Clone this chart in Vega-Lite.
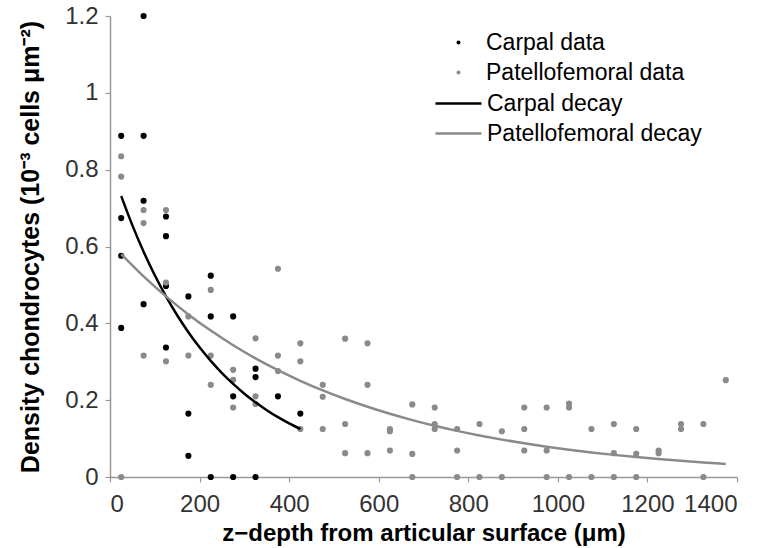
{
  "$schema": "https://vega.github.io/schema/vega-lite/v6.json",
  "autosize": "none",
  "width": 627,
  "height": 461,
  "padding": {"left": 110, "top": 16, "right": 32, "bottom": 71},
  "background": "white",
  "config": {
    "view": {"stroke": null},
    "font": "Liberation Sans",
    "axis": {
      "grid": false,
      "domainColor": "#999999",
      "domainWidth": 1.5,
      "tickColor": "#999999",
      "tickWidth": 1.2,
      "tickSize": 5,
      "labelFont": "Liberation Sans",
      "labelFontSize": 24,
      "labelColor": "#333333",
      "titleFont": "Liberation Sans",
      "titleFontSize": 24,
      "titleFontWeight": "bold",
      "titleColor": "#000000"
    },
    "legend": {
      "labelFont": "Liberation Sans",
      "labelFontSize": 23,
      "labelColor": "#000000",
      "labelLimit": 400,
      "padding": 0,
      "rowPadding": 6,
      "title": null
    }
  },
  "datasets": {
    "points": [
      {"depth": 25, "density": 0.888, "series": "Carpal data"},
      {"depth": 25, "density": 0.674, "series": "Carpal data"},
      {"depth": 25, "density": 0.576, "series": "Carpal data"},
      {"depth": 25, "density": 0.388, "series": "Carpal data"},
      {"depth": 75, "density": 1.2, "series": "Carpal data"},
      {"depth": 75, "density": 0.888, "series": "Carpal data"},
      {"depth": 75, "density": 0.719, "series": "Carpal data"},
      {"depth": 75, "density": 0.45, "series": "Carpal data"},
      {"depth": 125, "density": 0.678, "series": "Carpal data"},
      {"depth": 125, "density": 0.627, "series": "Carpal data"},
      {"depth": 125, "density": 0.4975, "series": "Carpal data"},
      {"depth": 125, "density": 0.337, "series": "Carpal data"},
      {"depth": 175, "density": 0.47, "series": "Carpal data"},
      {"depth": 175, "density": 0.165, "series": "Carpal data"},
      {"depth": 175, "density": 0.055, "series": "Carpal data"},
      {"depth": 225, "density": 0.524, "series": "Carpal data"},
      {"depth": 225, "density": 0.418, "series": "Carpal data"},
      {"depth": 225, "density": 0, "series": "Carpal data"},
      {"depth": 275, "density": 0.418, "series": "Carpal data"},
      {"depth": 275, "density": 0.21, "series": "Carpal data"},
      {"depth": 275, "density": 0, "series": "Carpal data"},
      {"depth": 325, "density": 0.282, "series": "Carpal data"},
      {"depth": 325, "density": 0.26, "series": "Carpal data"},
      {"depth": 325, "density": 0, "series": "Carpal data"},
      {"depth": 375, "density": 0.21, "series": "Carpal data"},
      {"depth": 425, "density": 0.165, "series": "Carpal data"},
      {"depth": 25, "density": 0.835, "series": "Patellofemoral data"},
      {"depth": 25, "density": 0.782, "series": "Patellofemoral data"},
      {"depth": 25, "density": 0, "series": "Patellofemoral data"},
      {"depth": 75, "density": 0.695, "series": "Patellofemoral data"},
      {"depth": 75, "density": 0.661, "series": "Patellofemoral data"},
      {"depth": 75, "density": 0.316, "series": "Patellofemoral data"},
      {"depth": 125, "density": 0.695, "series": "Patellofemoral data"},
      {"depth": 125, "density": 0.506, "series": "Patellofemoral data"},
      {"depth": 125, "density": 0.301, "series": "Patellofemoral data"},
      {"depth": 175, "density": 0.418, "series": "Patellofemoral data"},
      {"depth": 175, "density": 0.316, "series": "Patellofemoral data"},
      {"depth": 225, "density": 0.487, "series": "Patellofemoral data"},
      {"depth": 225, "density": 0.316, "series": "Patellofemoral data"},
      {"depth": 225, "density": 0.24, "series": "Patellofemoral data"},
      {"depth": 275, "density": 0.279, "series": "Patellofemoral data"},
      {"depth": 275, "density": 0.253, "series": "Patellofemoral data"},
      {"depth": 275, "density": 0.181, "series": "Patellofemoral data"},
      {"depth": 325, "density": 0.361, "series": "Patellofemoral data"},
      {"depth": 325, "density": 0.21, "series": "Patellofemoral data"},
      {"depth": 325, "density": 0.19, "series": "Patellofemoral data"},
      {"depth": 375, "density": 0.542, "series": "Patellofemoral data"},
      {"depth": 375, "density": 0.316, "series": "Patellofemoral data"},
      {"depth": 375, "density": 0.276, "series": "Patellofemoral data"},
      {"depth": 425, "density": 0.348, "series": "Patellofemoral data"},
      {"depth": 425, "density": 0.301, "series": "Patellofemoral data"},
      {"depth": 425, "density": 0.125, "series": "Patellofemoral data"},
      {"depth": 475, "density": 0.24, "series": "Patellofemoral data"},
      {"depth": 475, "density": 0.209, "series": "Patellofemoral data"},
      {"depth": 475, "density": 0.125, "series": "Patellofemoral data"},
      {"depth": 525, "density": 0.36, "series": "Patellofemoral data"},
      {"depth": 525, "density": 0.138, "series": "Patellofemoral data"},
      {"depth": 525, "density": 0.062, "series": "Patellofemoral data"},
      {"depth": 575, "density": 0.348, "series": "Patellofemoral data"},
      {"depth": 575, "density": 0.24, "series": "Patellofemoral data"},
      {"depth": 575, "density": 0.062, "series": "Patellofemoral data"},
      {"depth": 625, "density": 0.125, "series": "Patellofemoral data"},
      {"depth": 625, "density": 0.119, "series": "Patellofemoral data"},
      {"depth": 625, "density": 0.069, "series": "Patellofemoral data"},
      {"depth": 675, "density": 0.189, "series": "Patellofemoral data"},
      {"depth": 675, "density": 0.06, "series": "Patellofemoral data"},
      {"depth": 675, "density": 0, "series": "Patellofemoral data"},
      {"depth": 725, "density": 0.181, "series": "Patellofemoral data"},
      {"depth": 725, "density": 0.138, "series": "Patellofemoral data"},
      {"depth": 725, "density": 0.125, "series": "Patellofemoral data"},
      {"depth": 775, "density": 0.125, "series": "Patellofemoral data"},
      {"depth": 775, "density": 0.069, "series": "Patellofemoral data"},
      {"depth": 775, "density": 0, "series": "Patellofemoral data"},
      {"depth": 825, "density": 0.138, "series": "Patellofemoral data"},
      {"depth": 825, "density": 0, "series": "Patellofemoral data"},
      {"depth": 875, "density": 0.119, "series": "Patellofemoral data"},
      {"depth": 875, "density": 0, "series": "Patellofemoral data"},
      {"depth": 925, "density": 0.181, "series": "Patellofemoral data"},
      {"depth": 925, "density": 0.125, "series": "Patellofemoral data"},
      {"depth": 925, "density": 0.069, "series": "Patellofemoral data"},
      {"depth": 975, "density": 0.181, "series": "Patellofemoral data"},
      {"depth": 975, "density": 0.069, "series": "Patellofemoral data"},
      {"depth": 975, "density": 0, "series": "Patellofemoral data"},
      {"depth": 1025, "density": 0.191, "series": "Patellofemoral data"},
      {"depth": 1025, "density": 0.181, "series": "Patellofemoral data"},
      {"depth": 1025, "density": 0, "series": "Patellofemoral data"},
      {"depth": 1075, "density": 0.125, "series": "Patellofemoral data"},
      {"depth": 1075, "density": 0, "series": "Patellofemoral data"},
      {"depth": 1125, "density": 0.138, "series": "Patellofemoral data"},
      {"depth": 1125, "density": 0.062, "series": "Patellofemoral data"},
      {"depth": 1125, "density": 0, "series": "Patellofemoral data"},
      {"depth": 1175, "density": 0.125, "series": "Patellofemoral data"},
      {"depth": 1175, "density": 0.06, "series": "Patellofemoral data"},
      {"depth": 1175, "density": 0, "series": "Patellofemoral data"},
      {"depth": 1225, "density": 0.069, "series": "Patellofemoral data"},
      {"depth": 1225, "density": 0.062, "series": "Patellofemoral data"},
      {"depth": 1275, "density": 0.138, "series": "Patellofemoral data"},
      {"depth": 1275, "density": 0.125, "series": "Patellofemoral data"},
      {"depth": 1325, "density": 0.138, "series": "Patellofemoral data"},
      {"depth": 1325, "density": 0, "series": "Patellofemoral data"},
      {"depth": 1375, "density": 0.252, "series": "Patellofemoral data"}
    ],
    "curves": [
      {"depth": 25, "density": 0.7315, "series": "Carpal decay"},
      {"depth": 50, "density": 0.655, "series": "Carpal decay"},
      {"depth": 75, "density": 0.5865, "series": "Carpal decay"},
      {"depth": 100, "density": 0.5251, "series": "Carpal decay"},
      {"depth": 125, "density": 0.4702, "series": "Carpal decay"},
      {"depth": 150, "density": 0.421, "series": "Carpal decay"},
      {"depth": 175, "density": 0.377, "series": "Carpal decay"},
      {"depth": 200, "density": 0.3375, "series": "Carpal decay"},
      {"depth": 225, "density": 0.3022, "series": "Carpal decay"},
      {"depth": 250, "density": 0.2706, "series": "Carpal decay"},
      {"depth": 275, "density": 0.2423, "series": "Carpal decay"},
      {"depth": 300, "density": 0.2169, "series": "Carpal decay"},
      {"depth": 325, "density": 0.1943, "series": "Carpal decay"},
      {"depth": 350, "density": 0.1739, "series": "Carpal decay"},
      {"depth": 375, "density": 0.1557, "series": "Carpal decay"},
      {"depth": 400, "density": 0.1395, "series": "Carpal decay"},
      {"depth": 425, "density": 0.1249, "series": "Carpal decay"},
      {"depth": 25, "density": 0.58, "series": "Patellofemoral decay"},
      {"depth": 75, "density": 0.5222, "series": "Patellofemoral decay"},
      {"depth": 125, "density": 0.4702, "series": "Patellofemoral decay"},
      {"depth": 175, "density": 0.4233, "series": "Patellofemoral decay"},
      {"depth": 225, "density": 0.3811, "series": "Patellofemoral decay"},
      {"depth": 275, "density": 0.3431, "series": "Patellofemoral decay"},
      {"depth": 325, "density": 0.3089, "series": "Patellofemoral decay"},
      {"depth": 375, "density": 0.2781, "series": "Patellofemoral decay"},
      {"depth": 425, "density": 0.2504, "series": "Patellofemoral decay"},
      {"depth": 475, "density": 0.2254, "series": "Patellofemoral decay"},
      {"depth": 525, "density": 0.203, "series": "Patellofemoral decay"},
      {"depth": 575, "density": 0.1828, "series": "Patellofemoral decay"},
      {"depth": 625, "density": 0.1645, "series": "Patellofemoral decay"},
      {"depth": 675, "density": 0.1481, "series": "Patellofemoral decay"},
      {"depth": 725, "density": 0.1333, "series": "Patellofemoral decay"},
      {"depth": 775, "density": 0.12, "series": "Patellofemoral decay"},
      {"depth": 825, "density": 0.1081, "series": "Patellofemoral decay"},
      {"depth": 875, "density": 0.0973, "series": "Patellofemoral decay"},
      {"depth": 925, "density": 0.0876, "series": "Patellofemoral decay"},
      {"depth": 975, "density": 0.0789, "series": "Patellofemoral decay"},
      {"depth": 1025, "density": 0.071, "series": "Patellofemoral decay"},
      {"depth": 1075, "density": 0.0639, "series": "Patellofemoral decay"},
      {"depth": 1125, "density": 0.0576, "series": "Patellofemoral decay"},
      {"depth": 1175, "density": 0.0518, "series": "Patellofemoral decay"},
      {"depth": 1225, "density": 0.0467, "series": "Patellofemoral decay"},
      {"depth": 1275, "density": 0.042, "series": "Patellofemoral decay"},
      {"depth": 1325, "density": 0.0378, "series": "Patellofemoral decay"},
      {"depth": 1375, "density": 0.0341, "series": "Patellofemoral decay"}
    ]
  },
  "encoding": {
    "x": {
      "field": "depth",
      "type": "quantitative",
      "scale": {"domain": [0, 1400], "nice": false, "zero": true},
      "axis": {
        "values": [0, 200, 400, 600, 800, 1000, 1200, 1400],
        "format": "d",
        "title": "z−depth from articular surface (μm)",
        "labelPadding": 10,
        "titlePadding": 5
      }
    },
    "y": {
      "field": "density",
      "type": "quantitative",
      "scale": {"domain": [0, 1.2], "nice": false},
      "axis": {
        "values": [0, 0.2, 0.4, 0.6, 0.8, 1, 1.2],
        "format": ".1~f",
        "title": "Density chondrocytes (10⁻³ cells μm⁻²)",
        "titleFontSize": 25,
        "labelPadding": 7,
        "titlePadding": 21
      }
    }
  },
  "layer": [
    {
      "data": {"name": "points"},
      "mark": {"type": "circle", "size": 38, "opacity": 1},
      "encoding": {
        "fill": {
          "field": "series",
          "type": "nominal",
          "scale": {"domain": ["Carpal data", "Patellofemoral data"], "range": ["#000000", "#8a8a8a"]},
          "legend": {
            "orient": "none",
            "legendX": 337,
            "legendY": 15,
            "symbolType": "circle",
            "symbolSize": 16,
            "labelOffset": 16
          }
        }
      }
    },
    {
      "data": {"name": "curves"},
      "mark": {"type": "line", "strokeWidth": 2.5, "interpolate": "monotone"},
      "encoding": {
        "stroke": {
          "field": "series",
          "type": "nominal",
          "scale": {"domain": ["Carpal decay", "Patellofemoral decay"], "range": ["#000000", "#8a8a8a"]},
          "legend": {
            "orient": "none",
            "legendX": 337,
            "legendY": 76,
            "symbolType": "M-4.6,0H4.6",
            "symbolSize": 100,
            "symbolStrokeWidth": 2.5,
            "labelOffset": 17
          }
        }
      }
    }
  ]
}
